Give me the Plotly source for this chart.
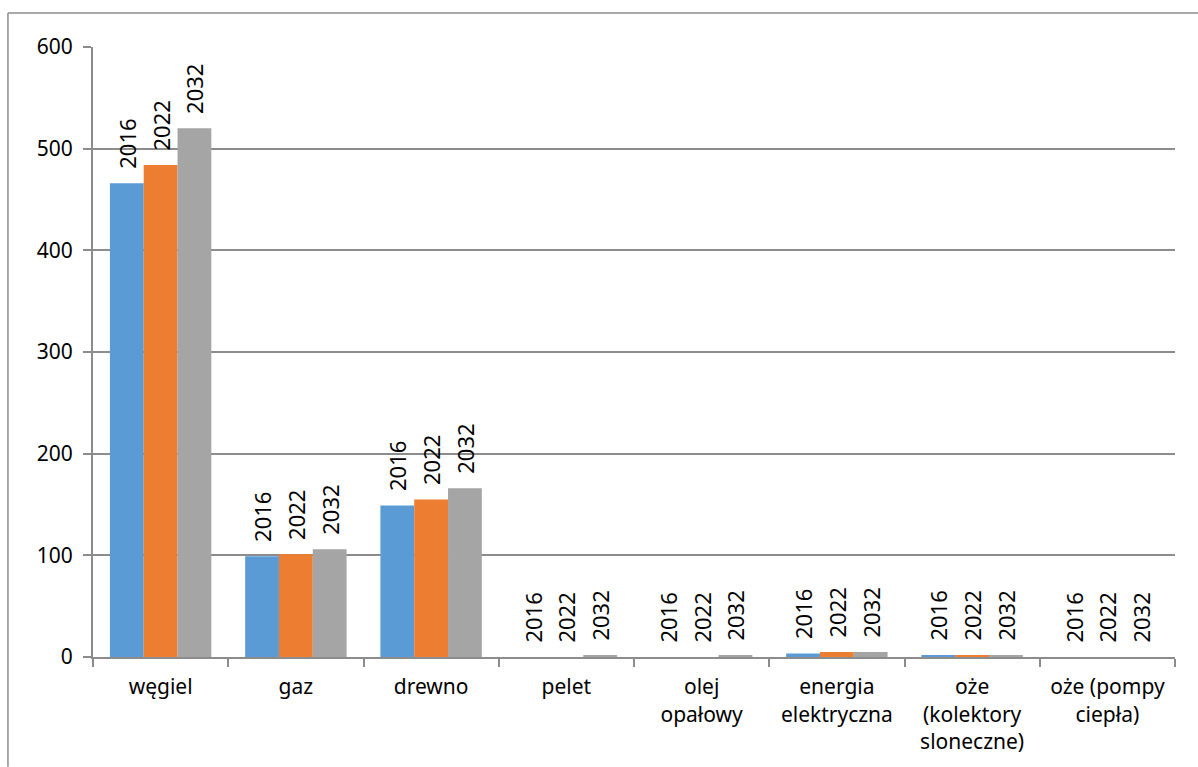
import plotly.graph_objects as go

categories = ["węgiel", "gaz", "drewno", "pelet", "olej<br>opałowy",
              "energia<br>elektryczna", "oże<br>(kolektory<br>sloneczne)",
              "oże (pompy<br>ciepła)"]
series_names = ["2016", "2022", "2032"]
values_2016 = [466, 99, 149, 0, 0, 3.5, 1.5, 0]
values_2022 = [484, 101, 155, 0, 0, 5, 1.5, 0]
values_2032 = [520, 106, 166, 1.5, 1.5, 5, 1.5, 0]
colors = ["#5B9BD5", "#ED7D31", "#A5A5A5"]

fig = go.Figure()
pad = "\u00a0\u00a0"
for name, vals, col in zip(series_names, [values_2016, values_2022, values_2032], colors):
    fig.add_trace(go.Bar(
        x=categories, y=vals, name=name, marker=dict(color=col, line=dict(width=0)),
        text=[pad + name] * len(vals), textposition="outside", textangle=-90,
        constraintext="none",
        textfont=dict(family="Noto Sans", size=22, color="#000000"),
        cliponaxis=False,
    ))

axis_col = "#8C8C8C"
fig.update_layout(
    width=1198, height=767,
    margin=dict(l=93, r=23, t=47, b=108),
    paper_bgcolor="white", plot_bgcolor="white",
    barmode="group", bargap=0.25, bargroupgap=0,
    showlegend=False,
    font=dict(family="Noto Sans", size=21, color="#000000"),
    xaxis=dict(
        showline=True, linecolor=axis_col, linewidth=2,
        ticks="outside", ticklen=8, tickcolor=axis_col, tickwidth=2,
        tickson="boundaries", showgrid=False, ticklabelstandoff=10,
        tickfont=dict(family="Noto Sans", size=21, color="#000000"),
    ),
    yaxis=dict(
        range=[0, 600], dtick=100, tick0=0,
        showline=True, linecolor=axis_col, linewidth=2,
        ticks="outside", ticklen=8, tickcolor=axis_col, tickwidth=2,
        showgrid=True, gridcolor=axis_col, gridwidth=2,
        zeroline=False, ticklabelstandoff=6,
        tickfont=dict(family="Noto Sans", size=21, color="#000000"),
    ),
    shapes=[
        dict(type="line", xref="paper", yref="paper", x0=-0.0786, x1=-0.0786,
             y0=1.0556, y1=-0.18, line=dict(color="#8C8C8C", width=1.5)),
        dict(type="line", xref="paper", yref="paper", x0=-0.0786, x1=1.03,
             y0=1.0556, y1=1.0556, line=dict(color="#8C8C8C", width=1.5)),
    ],
)

fig.write_html("out.html")
